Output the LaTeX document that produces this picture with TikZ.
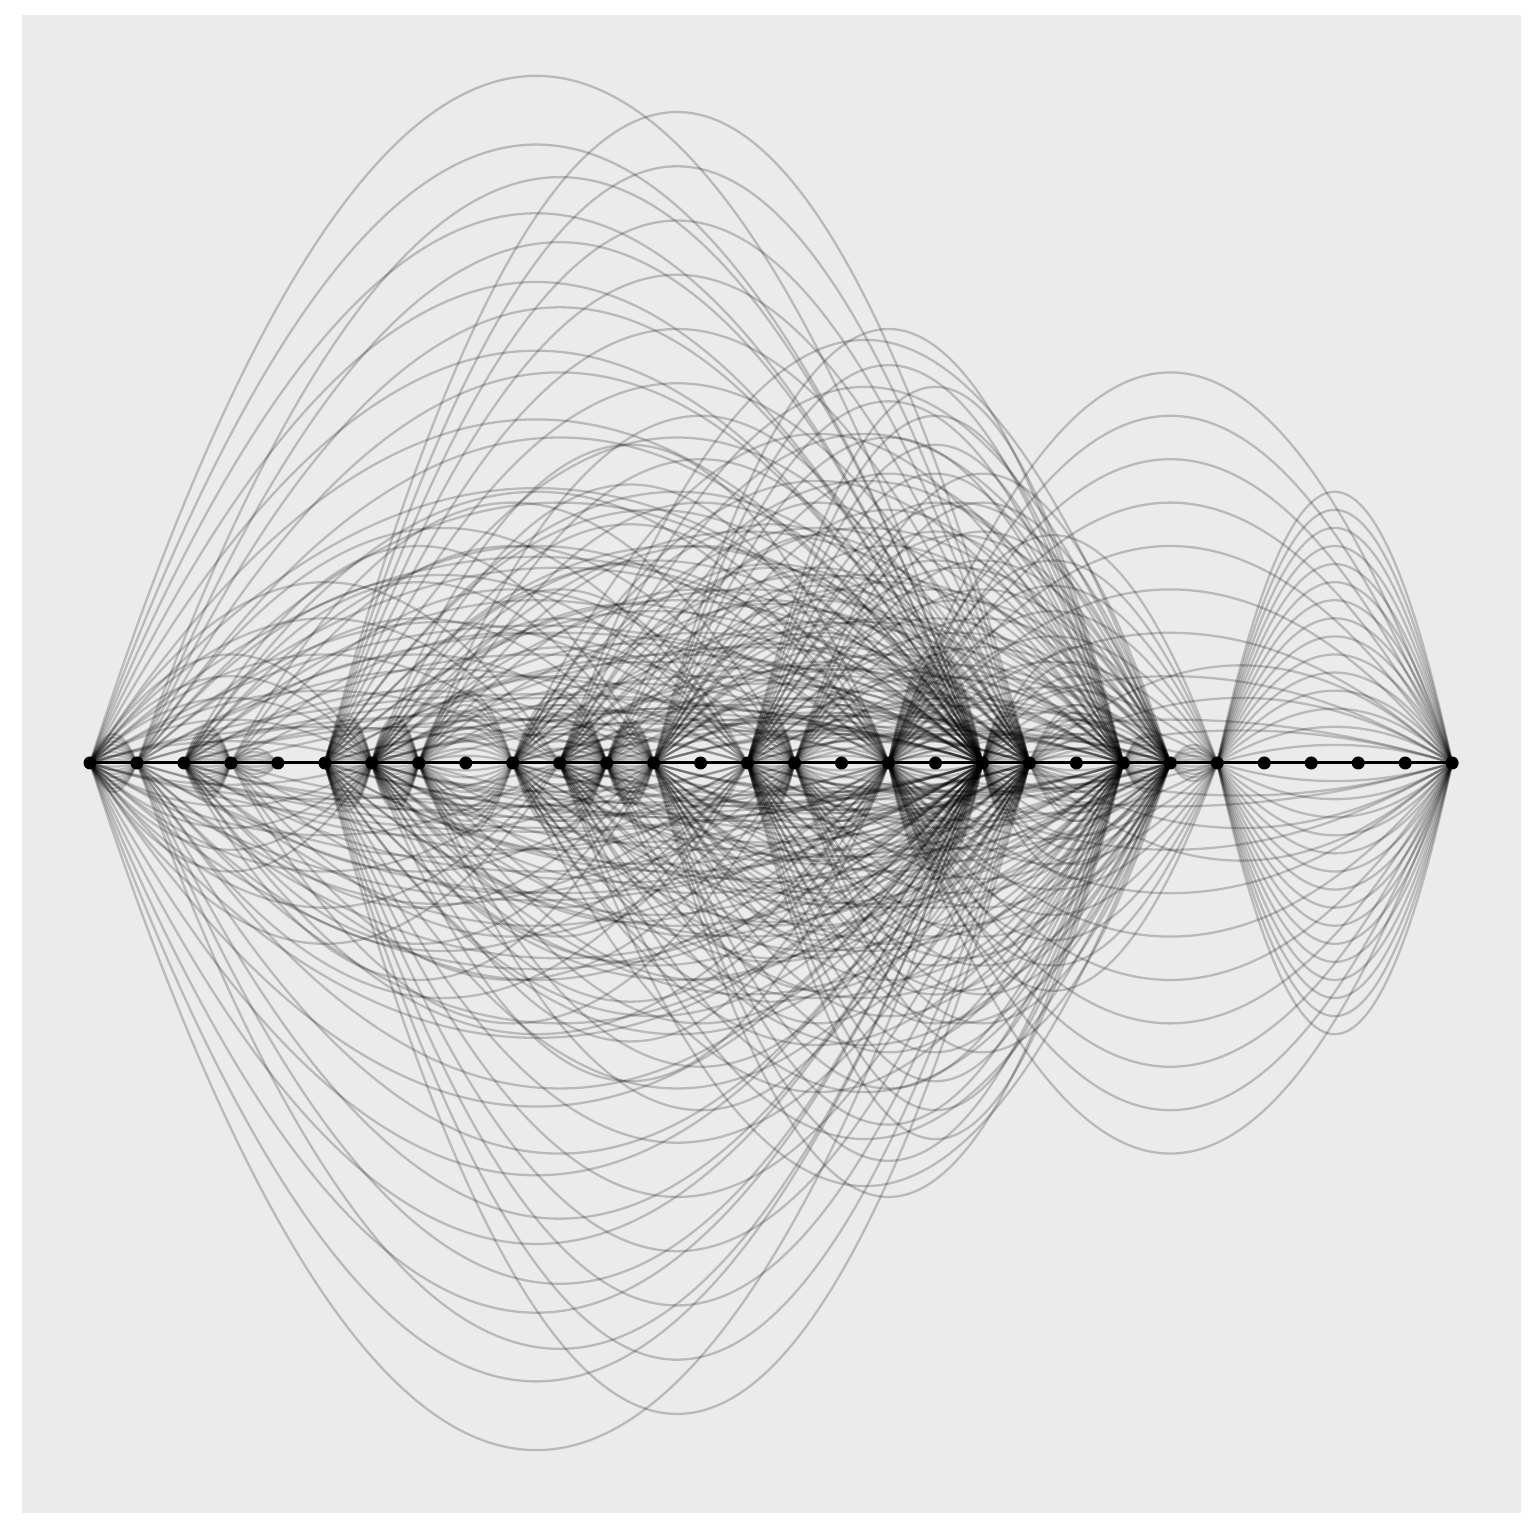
\documentclass[tikz,border=0pt]{standalone}
\usetikzlibrary{positioning}
\pgfdeclarelayer{panel}
\pgfdeclarelayer{edges}
\pgfsetlayers{panel,edges,main}
\definecolor{panelgray}{HTML}{EBEBEB}

\begin{document}
\begin{tikzpicture}[
  x=1pt, y=1pt,
  dot/.style={circle, fill=black, inner sep=0pt, minimum size=13pt},
  arc/.style={draw=black, draw opacity=0.21, line width=2.3pt},
  spine/.style={draw=black, line width=3pt}
]
\useasboundingbox (0,0) rectangle (1536,1536);

\foreach \i in {0,...,29}
  \node[dot] (v\i) at (90+\i*46.97, 773) {};

\begin{pgfonlayer}{panel}
\fill[panelgray] (22,23) rectangle (1521,1521);
\end{pgfonlayer}

\begin{pgfonlayer}{edges}
\foreach \a/\b/\m in {0/19/10, 5/20/12, 1/19/9, 12/22/12, 10/23/9, 14/22/13,
    15/23/10, 17/24/9, 17/29/9, 24/29/15, 6/17/8, 9/22/7, 3/15/6, 2/12/6,
    0/10/5, 7/19/8, 11/20/8, 0/6/5, 19/23/8, 20/29/3, 12/19/7, 6/14/6,
    5/19/5, 9/20/6, 10/19/6, 14/23/8, 12/20/6, 6/22/4, 2/17/5, 1/14/5,
    0/1/8, 2/3/10, 3/4/4, 5/6/13, 6/7/13, 7/9/10, 9/11/10, 10/11/10,
    11/12/12, 14/15/14, 17/19/16, 19/20/15, 22/23/8, 23/24/5, 20/22/8, 15/17/10} {
  \pgfmathsetmacro\dd{(\b-\a)*46.97}
  \foreach \k in {1,...,\m} {
    \pgfmathsetmacro\hh{4/3*\k*0.077*\dd}
    \draw[arc] (v\a.center) .. controls +(\dd/3,\hh) and +(-\dd/3,\hh) .. (v\b.center);
    \draw[arc] (v\a.center) .. controls +(\dd/3,-\hh) and +(-\dd/3,-\hh) .. (v\b.center);
  }
}
\draw[spine] (v0.center) -- (v29.center);
\end{pgfonlayer}

\end{tikzpicture}
\end{document}
